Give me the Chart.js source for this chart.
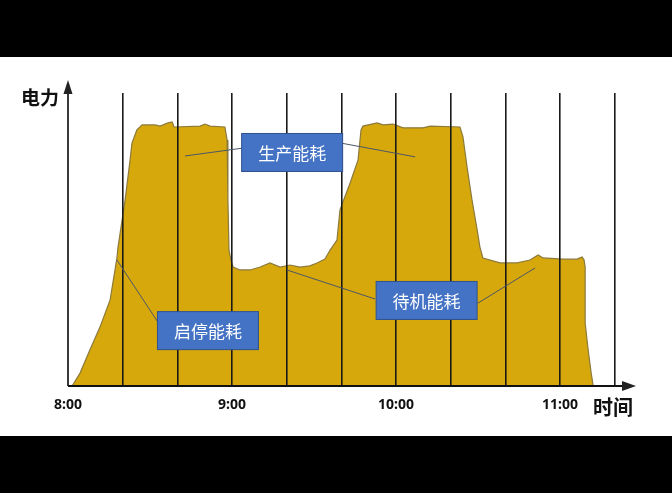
<!DOCTYPE html>
<html>
<head>
<meta charset="utf-8">
<script src="https://cdn.jsdelivr.net/npm/chart.js@4"></script>
<style>
  html, body { margin: 0; padding: 0; background: #000; }
  #wrap { position: absolute; left: 0; top: 57px; width: 672px; height: 379px; background: #fff; }
</style>
</head>
<body>
<div id="wrap"><canvas id="myChart" width="672" height="379"></canvas></div>
<script>
// minutes after 8:00 and power (arbitrary units, 100 = top of grid)
const minutes = [
  1.5, 4.4, 8.0, 11.7, 15.4, 17.2, 17.9, 18.3, 20.9, 22.7, 23.4, 25.2, 27.1,
  31.8, 33.7, 36.6, 38.1, 38.8, 48.3, 50.1, 52.0, 57.4, 58.2, 58.5, 58.9,
  59.6, 60.4, 62.9, 66.6, 70.3, 73.9, 77.6, 81.2, 84.9, 88.5, 91.1, 94.0,
  95.9, 98.4, 99.5, 103.2, 106.1, 107.2, 107.9, 113.1, 115.3, 118.9, 122.6,
  129.9, 132.5, 143.4, 144.5, 146.0, 147.8, 149.7, 150.7, 151.8, 158.1,
  164.3, 169.0, 172.0, 173.8, 181.1, 186.2, 188.1, 188.8, 189.2, 189.2,
  190.3, 191.4, 192.1,
];
const power = [
  0, 4.4, 12.3, 20.1, 29.4, 39.6, 43.7, 47.4, 63.5, 77.1, 82.9, 87.4, 89.1,
  89.1, 88.7, 89.8, 90.1, 88.4, 88.7, 89.4, 88.7, 88.4, 84.0, 63.5, 46.4,
  43.0, 40.6, 39.6, 39.6, 40.6, 42.0, 40.6, 41.3, 40.6, 41.0, 42.0, 43.3,
  46.4, 49.8, 60.1, 69.3, 77.1, 87.4, 88.7, 89.8, 89.1, 89.4, 88.1,
  88.1, 88.7, 88.4, 85.0, 74.7, 63.5, 53.2, 47.4, 43.7, 42.0,
  42.0, 43.0, 44.7, 43.7, 43.3, 43.3, 44.0, 43.0, 40.6, 21.5,
  12.3, 4.4, 0.3,
];

const tickMinutes = [0, 60, 120, 180];
const tickLabels = ["8:00", "9:00", "10:00", "11:00"];

// callout boxes: text, centre (minutes, power)
const calloutText = ["生产能耗", "启停能耗", "待机能耗"];
const calloutX = [82.0, 51.2, 131.2];
const calloutY = [79.7, 18.9, 29.2];
// leader lines: [box index, from x, from y, to x, to y]
const leaders = [
  [0, 64.0, 81.2, 42.8, 78.5],
  [0, 99.9, 82.9, 127.0, 78.2],
  [1, 32.9, 21.8, 17.9, 43.0],
  [2, 112.3, 29.7, 80.1, 39.6],
  [2, 150.0, 28.3, 170.9, 40.3],
];

const points = minutes.map((m, i) => ({ x: m, y: power[i] }));

const decorations = {
  id: "decorations",
  afterDraw(chart) {
    const { ctx, chartArea, scales } = chart;
    const xs = scales.x;
    const ys = scales.y;
    const left = chartArea.left;
    const bottom = chartArea.bottom;

    ctx.save();
    // axes with arrows
    ctx.strokeStyle = "#3a3a3a";
    ctx.fillStyle = "#222";
    ctx.lineWidth = 2;
    const yTop = chartArea.top - 13;
    ctx.beginPath();
    ctx.moveTo(left, bottom);
    ctx.lineTo(left, yTop + 10);
    ctx.stroke();
    ctx.beginPath();
    ctx.moveTo(left, yTop);
    ctx.lineTo(left - 4.5, yTop + 14);
    ctx.lineTo(left + 4.5, yTop + 14);
    ctx.closePath();
    ctx.fill();

    const xEnd = chartArea.right;
    ctx.strokeStyle = "#111";
    ctx.beginPath();
    ctx.moveTo(left, bottom);
    ctx.lineTo(xEnd - 10, bottom);
    ctx.stroke();
    ctx.beginPath();
    ctx.moveTo(xEnd, bottom);
    ctx.lineTo(xEnd - 14, bottom - 5);
    ctx.lineTo(xEnd - 14, bottom + 5);
    ctx.closePath();
    ctx.fill();

    // axis titles
    ctx.fillStyle = "#111";
    ctx.font = "bold 19px 'Noto Sans CJK SC'";
    ctx.textBaseline = "middle";
    ctx.textAlign = "right";
    ctx.fillText("电力", left - 9, chartArea.top + 5);
    ctx.font = "bold 20px 'Noto Sans CJK SC'";
    ctx.textAlign = "left";
    ctx.fillText("时间", xEnd - 43, bottom + 21);

    // leader lines
    ctx.strokeStyle = "#4d5666";
    ctx.lineWidth = 1;
    leaders.forEach((l) => {
      ctx.beginPath();
      ctx.moveTo(xs.getPixelForValue(l[1]), ys.getPixelForValue(l[2]));
      ctx.lineTo(xs.getPixelForValue(l[3]), ys.getPixelForValue(l[4]));
      ctx.stroke();
    });

    // callout boxes
    ctx.font = "17px 'Noto Sans CJK SC'";
    ctx.textAlign = "center";
    calloutText.forEach((t, i) => {
      const cx = xs.getPixelForValue(calloutX[i]);
      const cy = ys.getPixelForValue(calloutY[i]);
      const w = 101;
      const h = 38;
      ctx.fillStyle = "#4472C4";
      ctx.fillRect(cx - w / 2, cy - h / 2, w, h);
      ctx.strokeStyle = "#2F528F";
      ctx.lineWidth = 1;
      ctx.strokeRect(cx - w / 2, cy - h / 2, w, h);
      ctx.fillStyle = "#fff";
      ctx.fillText(t, cx, cy + 1);
    });
    ctx.restore();
  },
};

const ctx = document.getElementById("myChart").getContext("2d");
const myChart = new Chart(ctx, {
  type: "line",
  data: {
    datasets: [
      {
        data: points,
        fill: "origin",
        backgroundColor: "#D6A80C",
        borderColor: "#8C7A3C",
        borderWidth: 1.2,
        pointRadius: 0,
        tension: 0,
      },
    ],
  },
  options: {
    responsive: false,
    animation: false,
    layout: {
      padding: { left: 68, right: 36, top: 36, bottom: 0 },
    },
    scales: {
      x: {
        type: "linear",
        min: 0,
        max: 207.8,
        afterFit: (scale) => {
          scale.height = 50;
        },
        ticks: {
          stepSize: 20,
          includeBounds: false,
          autoSkip: false,
          maxRotation: 0,
          padding: 11,
          color: "#111",
          font: { family: "'Noto Sans', sans-serif", size: 14, weight: "bold" },
          callback: (v) => {
            const i = tickMinutes.indexOf(v);
            return i >= 0 ? tickLabels[i] : "";
          },
        },
        border: { display: false },
        grid: {
          z: 1, // vertical lines sit on top of the filled area
          drawTicks: false,
          lineWidth: 1.6,
          color: (c) => (c.tick && c.tick.value === 0 ? "rgba(0,0,0,0)" : "#1a1a1a"),
        },
      },
      y: {
        display: false,
        min: 0,
        max: 100,
      },
    },
    plugins: {
      legend: { display: false },
      tooltip: { enabled: false },
    },
  },
  plugins: [decorations],
});
</script>
</body>
</html>
